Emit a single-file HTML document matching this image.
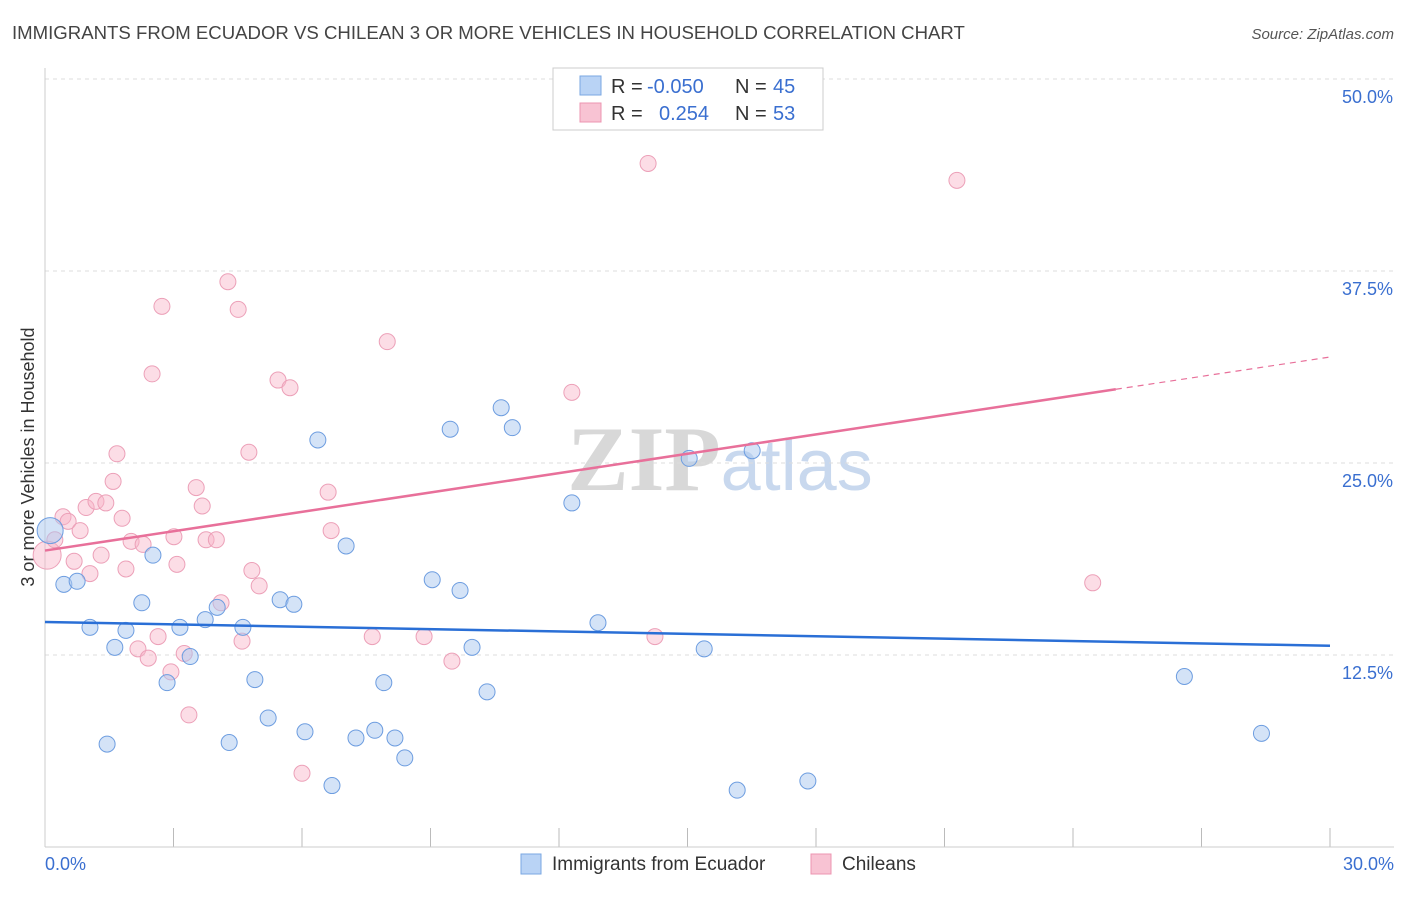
<!DOCTYPE html>
<html><head><meta charset="utf-8"><style>
body{margin:0;background:#fff;font-family:"Liberation Sans",sans-serif;}
svg text{font-family:"Liberation Sans",sans-serif;}
</style></head><body>
<svg id="chart" width="1406" height="892" xmlns="http://www.w3.org/2000/svg">
<text x="12" y="39" font-size="18.6" fill="#444">IMMIGRANTS FROM ECUADOR VS CHILEAN 3 OR MORE VEHICLES IN HOUSEHOLD CORRELATION CHART</text>
<text x="1394" y="39" font-size="15" fill="#555" text-anchor="end" font-style="italic">Source: ZipAtlas.com</text>
<text x="720" y="490" font-size="92" text-anchor="middle"><tspan fill="#d8d8d8" font-family="Liberation Serif" font-weight="bold">ZIP</tspan><tspan fill="#c8d8ee" font-size="72">atlas</tspan></text>
<g id="grid"></g>
<line x1="45" y1="847" x2="1394" y2="847" stroke="#ccc"/>
<line x1="45" y1="68" x2="45" y2="847" stroke="#ccc"/>
<text transform="translate(34,457) rotate(-90)" font-size="18" fill="#333" text-anchor="middle">3 or more Vehicles in Household</text>
<g id="pts"></g>
<g id="trends"></g>
<g>
<rect x="553" y="68" width="270" height="62" fill="#fff" stroke="#ccc"/>
<rect x="580" y="76" width="21" height="19" fill="#b9d3f5" stroke="#7aa7e2"/>
<rect x="580" y="103" width="21" height="19" fill="#f8c3d3" stroke="#ec94b0"/>
<text x="611" y="93" font-size="20" fill="#333">R = <tspan fill="#3a6fd0" x="647">-0.050</tspan></text>
<text x="735" y="93" font-size="20" fill="#333">N = <tspan fill="#3a6fd0" x="773">45</tspan></text>
<text x="611" y="120" font-size="20" fill="#333">R = <tspan fill="#3a6fd0" x="659">0.254</tspan></text>
<text x="735" y="120" font-size="20" fill="#333">N = <tspan fill="#3a6fd0" x="773">53</tspan></text>
</g>
<g>
<rect x="521" y="854" width="20" height="20" fill="#b9d3f5" stroke="#7aa7e2"/>
<text x="552" y="870" font-size="19" fill="#333">Immigrants from Ecuador</text>
<rect x="811" y="854" width="20" height="20" fill="#f8c3d3" stroke="#ec94b0"/>
<text x="842" y="870" font-size="19" fill="#333">Chileans</text>
</g>
<text x="45" y="870" font-size="18" fill="#3a6fd0">0.0%</text>
<text x="1394" y="870" font-size="18" fill="#3a6fd0" text-anchor="end">30.0%</text>
</svg>
<script>
const yTicks=[12.5,25,37.5,50];
const yTickLabels=["12.5%","25.0%","37.5%","50.0%"];
const xTickVals=[0,3,6,9,12,15,18,21,24,27,30];
const blueX=[0.12,0.44,0.75,1.05,1.45,1.63,1.89,2.26,2.52,2.85,3.15,3.39,3.74,4.02,4.30,4.62,4.90,5.21,5.49,5.81,6.07,6.37,6.70,7.03,7.26,7.70,7.91,8.17,8.40,9.04,9.46,9.69,9.97,10.32,10.65,10.91,12.30,12.91,15.04,15.39,16.16,16.51,17.81,26.6,28.4];
const blueY=[20.6,17.1,17.3,14.3,6.7,13.0,14.1,15.9,19.0,10.7,14.3,12.4,14.8,15.6,6.8,14.3,10.9,8.4,16.1,15.8,7.5,26.5,4.0,19.6,7.1,7.6,10.7,7.1,5.8,17.4,27.2,16.7,13.0,10.1,28.6,27.3,22.4,14.6,25.3,12.9,3.7,25.8,4.3,11.1,7.4];
const pinkX=[0.05,0.23,0.42,0.54,0.68,0.82,0.96,1.05,1.19,1.31,1.42,1.59,1.68,1.80,1.89,2.01,2.17,2.29,2.41,2.50,2.64,2.73,2.94,3.01,3.08,3.25,3.36,3.53,3.67,3.76,4.00,4.11,4.27,4.51,4.60,4.76,4.83,5.00,5.44,5.72,6.00,6.61,6.68,7.64,7.99,8.85,9.50,12.30,14.08,14.24,21.29,24.46];
const pinkY=[19.0,20.0,21.5,21.2,18.6,20.6,22.1,17.8,22.5,19.0,22.4,23.8,25.6,21.4,18.1,19.9,12.9,19.7,12.3,30.8,13.7,35.2,11.4,20.2,18.4,12.6,8.6,23.4,22.2,20.0,20.0,15.9,36.8,35.0,13.4,25.7,18.0,17.0,30.4,29.9,4.8,23.1,20.6,13.7,32.9,13.7,12.1,29.6,44.5,13.7,43.4,17.2];
const blueTrend=[14.65,13.1];
const pinkTrend=[19.3,31.9];
const pinkSolidEnd=25;
const X=v=>45+v/30*1285, Y=v=>847-v*15.36;
const NS="http://www.w3.org/2000/svg";
function mk(tag,attrs,parent){const e=document.createElementNS(NS,tag);for(const k in attrs)e.setAttribute(k,attrs[k]);parent.appendChild(e);return e;}
const grid=document.getElementById('grid');
yTicks.forEach((t,i)=>{
 const l=mk('line',{x1:45,x2:1394,y1:Y(t),y2:Y(t),stroke:'#ddd','stroke-dasharray':'4,4'},grid);
 
 
 const tx=mk('text',{x:1393,y:Y(t)+24,'font-size':18,fill:'#3a6fd0','text-anchor':'end'},grid);
 tx.textContent=yTickLabels[i];
 
 
});
xTickVals.forEach(v=>{
 const l=mk('line',{x1:X(v),x2:X(v),y1:828,y2:847,stroke:'#bbb'},grid);
 
 
});
const pts=document.getElementById('pts');
pinkX.forEach((x,i)=>{
 const c=mk('circle',{cx:X(x),cy:Y(pinkY[i]),r:i==0?14:8,fill:'rgba(248,180,200,0.45)',stroke:'#eca0b8','stroke-width':1},pts);
 
 
});
blueX.forEach((x,i)=>{
 const c=mk('circle',{cx:X(x),cy:Y(blueY[i]),r:i==0?13:8,fill:'rgba(170,200,240,0.5)',stroke:'#6d9de0','stroke-width':1},pts);
 
 
});
const tr=document.getElementById('trends');
const b=mk('line',{x1:X(0),y1:Y(blueTrend[0]),x2:X(30),y2:Y(blueTrend[1]),stroke:'#2a6fd6','stroke-width':2.5},tr);


const pAt=v=>pinkTrend[0]+(pinkTrend[1]-pinkTrend[0])*v/30;
const p=mk('line',{x1:X(0),y1:Y(pAt(0)),x2:X(pinkSolidEnd),y2:Y(pAt(pinkSolidEnd)),stroke:'#e8709a','stroke-width':2.5},tr);


const pd=mk('line',{x1:X(pinkSolidEnd),y1:Y(pAt(pinkSolidEnd)),x2:X(30),y2:Y(pAt(30)),stroke:'#e8709a','stroke-width':1.2,'stroke-dasharray':'6,5'},tr);


</script>
</body></html>
